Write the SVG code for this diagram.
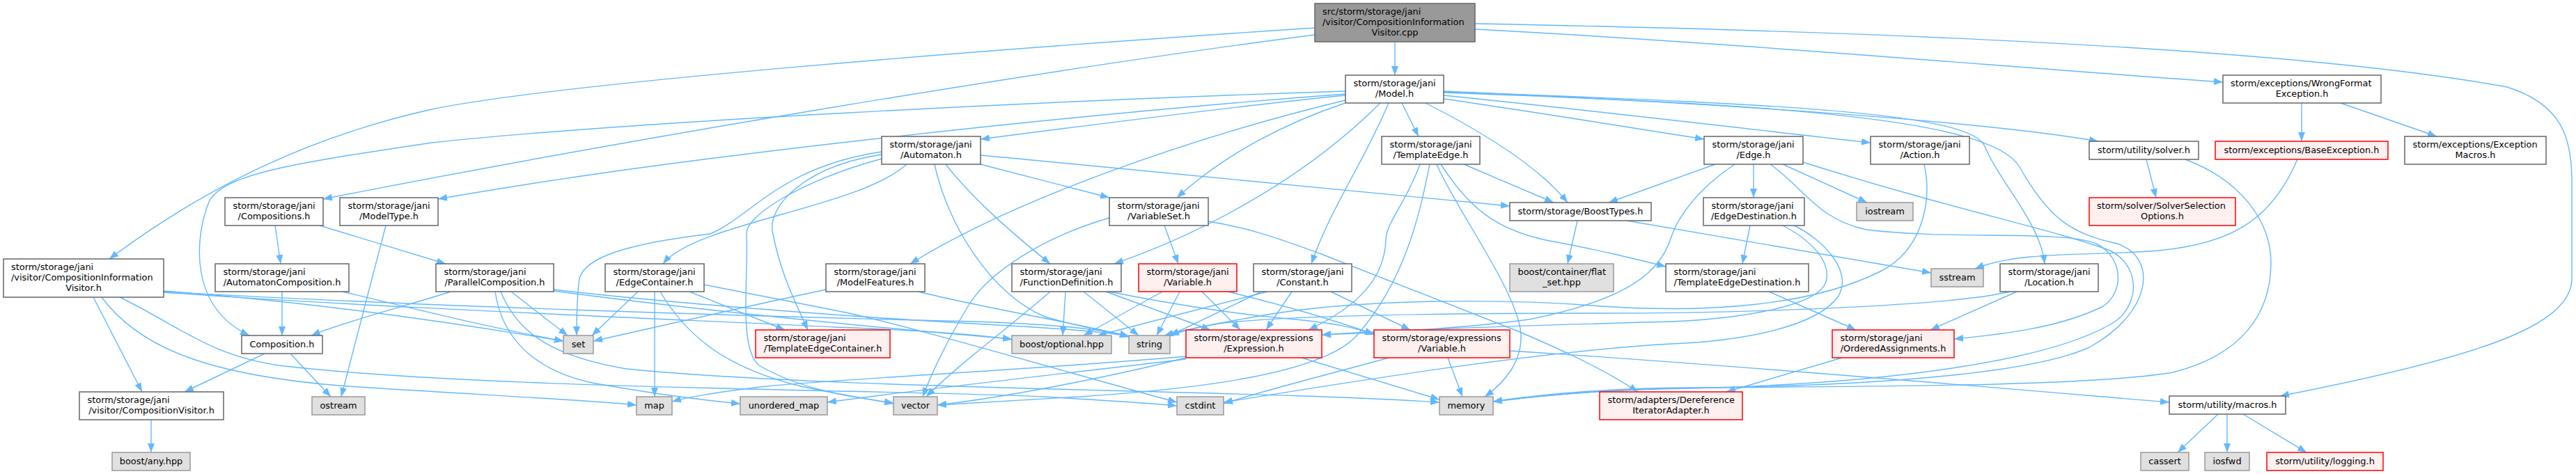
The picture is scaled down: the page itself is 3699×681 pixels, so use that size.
<svg xmlns="http://www.w3.org/2000/svg" width="3699" height="681" viewBox="0 0 3699 681">
<style>
text{font-family:"DejaVu Sans","Liberation Sans",sans-serif;font-size:12.9px;fill:#000}
.c{text-anchor:middle}
.nd rect{fill:#fff;stroke:#666;stroke-width:1.5}
.rt rect{fill:#999;stroke:#666;stroke-width:1.5}
.ex rect{fill:#e0e0e0;stroke:#999;stroke-width:1.5}
.rd rect{fill:#fff0f0;stroke:#f00;stroke-width:1.5}
#edges path{fill:none;stroke:#63b8ff;stroke-width:1.4;marker-end:url(#a)}
</style>
<defs>
<marker id="a" viewBox="0 0 13 10" refX="13" refY="5" markerWidth="13" markerHeight="10" markerUnits="userSpaceOnUse" orient="auto"><path d="M0,0L13,5L0,10z" fill="#63b8ff" stroke="none"/></marker>
</defs>
<rect width="3699" height="681" fill="#fff"/>
<g id="edges">
<path d="M2003,60 L2003,108"/>
<path d="M1888,40 C1400,72 800,120 620,157 C450,195 300,265 157,372"/>
<path d="M1888,50 C1500,100 900,200 464,286"/>
<path d="M2118,42 C2500,62 2900,98 3192,118"/>
<path d="M2118,34 C2700,45 3300,70 3600,125 C3680,150 3693,200 3693,260 L3693,400 C3693,470 3550,515 3274,569"/>
<path d="M1932,137 C1800,150 1600,175 1408,200"/>
<path d="M1932,131 C1500,145 900,175 620,205 C420,235 320,250 300,290 C280,340 270,440 358,482"/>
<path d="M1932,135 C1600,160 1000,220 629,286"/>
<path d="M1932,144 C1700,200 1450,290 1307,379"/>
<path d="M1932,148 C1850,175 1760,220 1690,284"/>
<path d="M1982,148 C1880,250 1740,330 1600,379"/>
<path d="M1994,148 C1960,230 1910,300 1883,379"/>
<path d="M2013,148 L2037,196"/>
<path d="M2047,148 C2130,190 2210,240 2251,291"/>
<path d="M2073,142 C2200,160 2350,185 2447,200"/>
<path d="M2073,137 C2300,160 2550,190 2686,205"/>
<path d="M2073,131 C2500,150 2850,175 3013,203"/>
<path d="M2073,132 C2600,150 2830,165 2850,210 C2870,260 2930,320 2936,379"/>
<path d="M2073,133 C2550,150 2860,170 2900,240 C2940,310 2970,335 3040,350 C3100,370 3090,450 3000,499 C2900,545 2600,556 2400,558 C2300,560 2200,570 2144,577"/>
<path d="M3305,148 L3305,203"/>
<path d="M3361,148 L3499,196"/>
<path d="M3299,229 C3260,320 3200,350 3100,360 C3000,368 2900,360 2836,386"/>
<path d="M3082,229 L3096,284"/>
<path d="M3138,229 C3220,260 3262,320 3261,380 C3260,450 3220,510 3120,535 C3000,555 2700,555 2420,557 C2300,558 2200,568 2144,577"/>
<path d="M2518,236 L2518,284"/>
<path d="M2560,236 L2681,291"/>
<path d="M2463,236 L2310,291"/>
<path d="M2491,236 C2440,270 2410,310 2400,340 C2385,390 2340,430 2195,459 C2100,472 1980,478 1898,481"/>
<path d="M2542,236 C2590,270 2610,315 2680,330 C2800,345 2960,330 3010,350 C3050,370 3050,420 3020,440 C2960,470 2880,480 2806,487"/>
<path d="M2589,233 C2800,300 2950,330 3030,360 C3070,380 3075,430 3040,460 C2950,520 2700,552 2420,558 C2300,560 2200,570 2144,577"/>
<path d="M2763,236 C2775,290 2760,360 2700,390 C2600,440 2450,450 2300,440 C2150,428 1950,430 1820,452 C1750,464 1700,474 1672,482"/>
<path d="M2039,236 C2020,290 1990,320 1990,345 C1988,400 1950,440 1879,474"/>
<path d="M2053,236 C2040,300 2020,400 1950,480 C1900,540 1700,560 1550,570 C1450,576 1390,579 1346,582"/>
<path d="M2063,236 C2090,300 2180,420 2184,480 C2186,520 2160,550 2132,570"/>
<path d="M2069,236 C2110,300 2150,330 2220,345 C2300,360 2340,370 2392,383"/>
<path d="M2102,236 L2231,291"/>
<path d="M2265,317 L2251,379"/>
<path d="M2336,317 L2773,392"/>
<path d="M2513,324 L2502,379"/>
<path d="M2560,324 C2600,345 2630,375 2622,405 C2610,440 2500,458 2400,462 C2250,466 2000,474 1898,481"/>
<path d="M2576,324 C2620,345 2660,390 2640,425 C2610,470 2500,490 2400,494 C2200,505 1900,555 1757,578"/>
<path d="M1811,419 L1680,482"/>
<path d="M1820,419 L1576,482"/>
<path d="M1855,419 L1818,474"/>
<path d="M1911,419 L2025,474"/>
<path d="M1669,419 L1556,482"/>
<path d="M1694,419 L1661,482"/>
<path d="M1726,419 L1781,474"/>
<path d="M1763,419 C1850,440 1930,465 1973,480"/>
<path d="M1508,419 C1450,470 1380,520 1330,570"/>
<path d="M1530,419 L1526,482"/>
<path d="M1556,419 L1635,482"/>
<path d="M1588,419 L1738,474"/>
<path d="M1592,419 C1700,440 1780,452 1850,458 C1920,464 1950,472 1973,481"/>
<path d="M1186,416 C1050,445 920,475 852,490"/>
<path d="M1319,419 C1400,440 1550,465 1621,483"/>
<path d="M1672,324 L1692,379"/>
<path d="M1593,313 C1500,340 1420,390 1390,440 C1360,490 1340,530 1325,570"/>
<path d="M1735,318 C1790,327 1830,340 1900,366 L2180,476 C2260,510 2310,535 2352,563"/>
<path d="M1408,236 L1593,284"/>
<path d="M1408,223 C1700,250 2000,280 2168,296"/>
<path d="M1358,236 C1400,290 1460,340 1508,379"/>
<path d="M1342,236 C1360,320 1420,420 1500,455 C1560,472 1600,478 1621,483"/>
<path d="M1302,236 C1230,300 1000,320 952,379"/>
<path d="M1266,218 C1120,240 1080,310 1020,336 C900,350 840,370 832,400 C828,430 828,460 828,482"/>
<path d="M1266,222 C1150,240 1100,300 1110,336 C1120,390 1140,430 1160,474"/>
<path d="M1266,228 C1150,260 1070,310 1072,336 C1075,400 1060,500 1090,525 C1150,560 1220,570 1283,579"/>
<path d="M916,419 L850,482"/>
<path d="M940,419 L940,570"/>
<path d="M990,419 L1127,474"/>
<path d="M948,419 C990,490 1050,530 1150,555 C1220,570 1260,575 1283,580"/>
<path d="M1011,409 L1200,446 C1300,466 1550,540 1690,578"/>
<path d="M235,418 C400,430 600,455 809,490"/>
<path d="M492,419 C600,445 700,470 809,490"/>
<path d="M235,420 C500,440 1000,460 1200,470 C1350,476 1420,482 1453,488"/>
<path d="M235,419 C600,440 1100,455 1400,462 C1520,466 1590,474 1621,484"/>
<path d="M134,427 L204,563"/>
<path d="M146,427 C200,500 300,540 500,555 C700,568 850,575 914,582"/>
<path d="M172,427 C260,470 300,510 400,525 C700,560 1300,560 1500,570 C1600,576 1660,580 1690,583"/>
<path d="M380,508 L265,563"/>
<path d="M417,508 L475,570"/>
<path d="M554,324 L490,570"/>
<path d="M395,324 L403,379"/>
<path d="M459,324 L640,379"/>
<path d="M405,419 L405,482"/>
<path d="M647,419 C600,435 500,460 447,482"/>
<path d="M734,419 L815,482"/>
<path d="M711,419 C720,480 760,530 850,550 C950,568 1010,575 1063,580"/>
<path d="M719,419 C740,470 780,510 900,530 C1200,560 1800,560 2067,578"/>
<path d="M795,416 C1000,440 1300,460 1450,468 C1550,474 1600,478 1621,484"/>
<path d="M795,418 C1000,445 1250,470 1453,487"/>
<path d="M1869,514 L2067,574"/>
<path d="M1703,514 C1600,540 1450,570 1346,582"/>
<path d="M1703,512 C1500,530 1200,545 1100,555 C1040,562 990,570 965,577"/>
<path d="M1703,516 C1500,540 1300,562 1188,578"/>
<path d="M2079,514 L2100,570"/>
<path d="M1994,514 C1900,540 1800,565 1757,580"/>
<path d="M2168,504 C2500,525 2900,560 3115,578"/>
<path d="M2645,514 L2479,563"/>
<path d="M2540,419 L2665,474"/>
<path d="M2896,419 L2772,474"/>
<path d="M2886,419 C2800,440 2500,450 2300,450 C2100,450 1850,452 1750,465 C1710,472 1690,478 1680,482"/>
<path d="M3185,595 L3127,650"/>
<path d="M3198,595 L3198,650"/>
<path d="M3221,595 L3312,650"/>
<path d="M217,603 L217,650"/>
</g>
<g id="n_root" class="rt"><rect x="1888" y="5" width="230" height="55"/><text x="1899" y="21">src/storm/storage/jani</text><text x="1899" y="36">/visitor/CompositionInformation</text><text class="c" x="2003" y="51">Visitor.cpp</text></g>
<g id="n_model" class="nd"><rect x="1932" y="108" width="141" height="40"/><text x="1943.5" y="124">storm/storage/jani</text><text class="c" x="2002.5" y="139">/Model.h</text></g>
<g id="n_wfe" class="nd"><rect x="3192" y="108" width="227" height="40"/><text x="3203" y="124">storm/exceptions/WrongFormat</text><text class="c" x="3305.5" y="139">Exception.h</text></g>
<g id="n_automaton" class="nd"><rect x="1266" y="196" width="142" height="40"/><text x="1277.5" y="212">storm/storage/jani</text><text class="c" x="1337" y="227">/Automaton.h</text></g>
<g id="n_templateedge" class="nd"><rect x="1984" y="196" width="141" height="40"/><text x="1995.5" y="212">storm/storage/jani</text><text class="c" x="2054.5" y="227">/TemplateEdge.h</text></g>
<g id="n_edge" class="nd"><rect x="2447" y="196" width="142" height="40"/><text x="2458.5" y="212">storm/storage/jani</text><text class="c" x="2518" y="227">/Edge.h</text></g>
<g id="n_action" class="nd"><rect x="2686" y="196" width="142" height="40"/><text x="2697.5" y="212">storm/storage/jani</text><text class="c" x="2757" y="227">/Action.h</text></g>
<g id="n_solver" class="nd"><rect x="3000" y="203" width="157" height="26"/><text class="c" x="3078.5" y="220">storm/utility/solver.h</text></g>
<g id="n_baseexc" class="rd"><rect x="3181" y="203" width="248" height="26"/><text class="c" x="3305" y="220">storm/exceptions/BaseException.h</text></g>
<g id="n_excmacros" class="nd"><rect x="3453" y="196" width="203" height="40"/><text x="3464.5" y="212">storm/exceptions/Exception</text><text class="c" x="3554.5" y="227">Macros.h</text></g>
<g id="n_compositions" class="nd"><rect x="323" y="284" width="141" height="40"/><text x="334.5" y="300">storm/storage/jani</text><text class="c" x="393.5" y="315">/Compositions.h</text></g>
<g id="n_modeltype" class="nd"><rect x="488" y="284" width="141" height="40"/><text x="499.5" y="300">storm/storage/jani</text><text class="c" x="558.5" y="315">/ModelType.h</text></g>
<g id="n_variableset" class="nd"><rect x="1593" y="284" width="142" height="40"/><text x="1604.5" y="300">storm/storage/jani</text><text class="c" x="1664" y="315">/VariableSet.h</text></g>
<g id="n_boosttypes" class="nd"><rect x="2168" y="291" width="203" height="26"/><text class="c" x="2269.5" y="308">storm/storage/BoostTypes.h</text></g>
<g id="n_edgedest" class="nd"><rect x="2446" y="284" width="145" height="40"/><text x="2457.5" y="300">storm/storage/jani</text><text class="c" x="2518.5" y="315">/EdgeDestination.h</text></g>
<g id="n_iostream" class="ex"><rect x="2666" y="291" width="81" height="26"/><text class="c" x="2706.5" y="308">iostream</text></g>
<g id="n_solversel" class="rd"><rect x="3000" y="284" width="210" height="40"/><text x="3011" y="300">storm/solver/SolverSelection</text><text class="c" x="3105" y="315">Options.h</text></g>
<g id="n_civh" class="nd"><rect x="5" y="372" width="230" height="55"/><text x="16" y="388">storm/storage/jani</text><text x="16" y="403">/visitor/CompositionInformation</text><text class="c" x="120" y="418">Visitor.h</text></g>
<g id="n_autocomp" class="nd"><rect x="309" y="379" width="192" height="40"/><text x="320.5" y="395">storm/storage/jani</text><text class="c" x="405" y="410">/AutomatonComposition.h</text></g>
<g id="n_parcomp" class="nd"><rect x="626" y="379" width="169" height="40"/><text x="637.5" y="395">storm/storage/jani</text><text class="c" x="710.5" y="410">/ParallelComposition.h</text></g>
<g id="n_edgecont" class="nd"><rect x="869" y="379" width="142" height="40"/><text x="880.5" y="395">storm/storage/jani</text><text class="c" x="940" y="410">/EdgeContainer.h</text></g>
<g id="n_modelfeat" class="nd"><rect x="1186" y="379" width="142" height="40"/><text x="1197.5" y="395">storm/storage/jani</text><text class="c" x="1257" y="410">/ModelFeatures.h</text></g>
<g id="n_funcdef" class="nd"><rect x="1453" y="379" width="157" height="40"/><text x="1464.5" y="395">storm/storage/jani</text><text class="c" x="1531.5" y="410">/FunctionDefinition.h</text></g>
<g id="n_janivar" class="rd"><rect x="1635" y="379" width="141" height="40"/><text x="1646.5" y="395">storm/storage/jani</text><text class="c" x="1705.5" y="410">/Variable.h</text></g>
<g id="n_constant" class="nd"><rect x="1800" y="379" width="141" height="40"/><text x="1811.5" y="395">storm/storage/jani</text><text class="c" x="1870.5" y="410">/Constant.h</text></g>
<g id="n_flatset" class="ex"><rect x="2168" y="379" width="149" height="40"/><text x="2179.5" y="395">boost/container/flat</text><text class="c" x="2242.5" y="410">_set.hpp</text></g>
<g id="n_ted" class="nd"><rect x="2392" y="379" width="205" height="40"/><text x="2403.5" y="395">storm/storage/jani</text><text class="c" x="2494.5" y="410">/TemplateEdgeDestination.h</text></g>
<g id="n_sstream" class="ex"><rect x="2773" y="386" width="75" height="26"/><text class="c" x="2810.5" y="403">sstream</text></g>
<g id="n_location" class="nd"><rect x="2872" y="379" width="141" height="40"/><text x="2883.5" y="395">storm/storage/jani</text><text class="c" x="2942.5" y="410">/Location.h</text></g>
<g id="n_composition" class="nd"><rect x="347" y="482" width="116" height="26"/><text class="c" x="405" y="499">Composition.h</text></g>
<g id="n_set" class="ex"><rect x="809" y="482" width="43" height="26"/><text class="c" x="830.5" y="499">set</text></g>
<g id="n_tec" class="rd"><rect x="1085" y="474" width="193" height="40"/><text x="1096.5" y="490">storm/storage/jani</text><text class="c" x="1181.5" y="505">/TemplateEdgeContainer.h</text></g>
<g id="n_boostopt" class="ex"><rect x="1453" y="482" width="143" height="26"/><text class="c" x="1524.5" y="499">boost/optional.hpp</text></g>
<g id="n_string" class="ex"><rect x="1621" y="482" width="59" height="26"/><text class="c" x="1650.5" y="499">string</text></g>
<g id="n_expression" class="rd"><rect x="1703" y="474" width="195" height="40"/><text x="1714.5" y="490">storm/storage/expressions</text><text class="c" x="1800.5" y="505">/Expression.h</text></g>
<g id="n_exprvar" class="rd"><rect x="1973" y="474" width="195" height="40"/><text x="1984.5" y="490">storm/storage/expressions</text><text class="c" x="2070.5" y="505">/Variable.h</text></g>
<g id="n_ordered" class="rd"><rect x="2631" y="474" width="175" height="40"/><text x="2642.5" y="490">storm/storage/jani</text><text class="c" x="2718.5" y="505">/OrderedAssignments.h</text></g>
<g id="n_compvisitor" class="nd"><rect x="114" y="563" width="207" height="40"/><text x="125.5" y="579">storm/storage/jani</text><text class="c" x="217.5" y="594">/visitor/CompositionVisitor.h</text></g>
<g id="n_ostream" class="ex"><rect x="448" y="570" width="76" height="26"/><text class="c" x="486" y="587">ostream</text></g>
<g id="n_map" class="ex"><rect x="914" y="570" width="51" height="26"/><text class="c" x="939.5" y="587">map</text></g>
<g id="n_umap" class="ex"><rect x="1063" y="570" width="125" height="26"/><text class="c" x="1125.5" y="587">unordered_map</text></g>
<g id="n_vector" class="ex"><rect x="1283" y="570" width="63" height="26"/><text class="c" x="1314.5" y="587">vector</text></g>
<g id="n_cstdint" class="ex"><rect x="1690" y="570" width="67" height="26"/><text class="c" x="1723.5" y="587">cstdint</text></g>
<g id="n_memory" class="ex"><rect x="2067" y="570" width="77" height="26"/><text class="c" x="2105.5" y="587">memory</text></g>
<g id="n_deref" class="rd"><rect x="2297" y="563" width="205" height="40"/><text x="2308.5" y="579">storm/adapters/Dereference</text><text class="c" x="2399.5" y="594">IteratorAdapter.h</text></g>
<g id="n_macros" class="nd"><rect x="3115" y="569" width="167" height="26"/><text class="c" x="3198.5" y="586">storm/utility/macros.h</text></g>
<g id="n_boostany" class="ex"><rect x="161" y="650" width="112" height="26"/><text class="c" x="217" y="667">boost/any.hpp</text></g>
<g id="n_cassert" class="ex"><rect x="3074" y="650" width="69" height="26"/><text class="c" x="3108.5" y="667">cassert</text></g>
<g id="n_iosfwd" class="ex"><rect x="3166" y="650" width="64" height="26"/><text class="c" x="3198" y="667">iosfwd</text></g>
<g id="n_logging" class="rd"><rect x="3255" y="650" width="167" height="26"/><text class="c" x="3338.5" y="667">storm/utility/logging.h</text></g>
</svg>
